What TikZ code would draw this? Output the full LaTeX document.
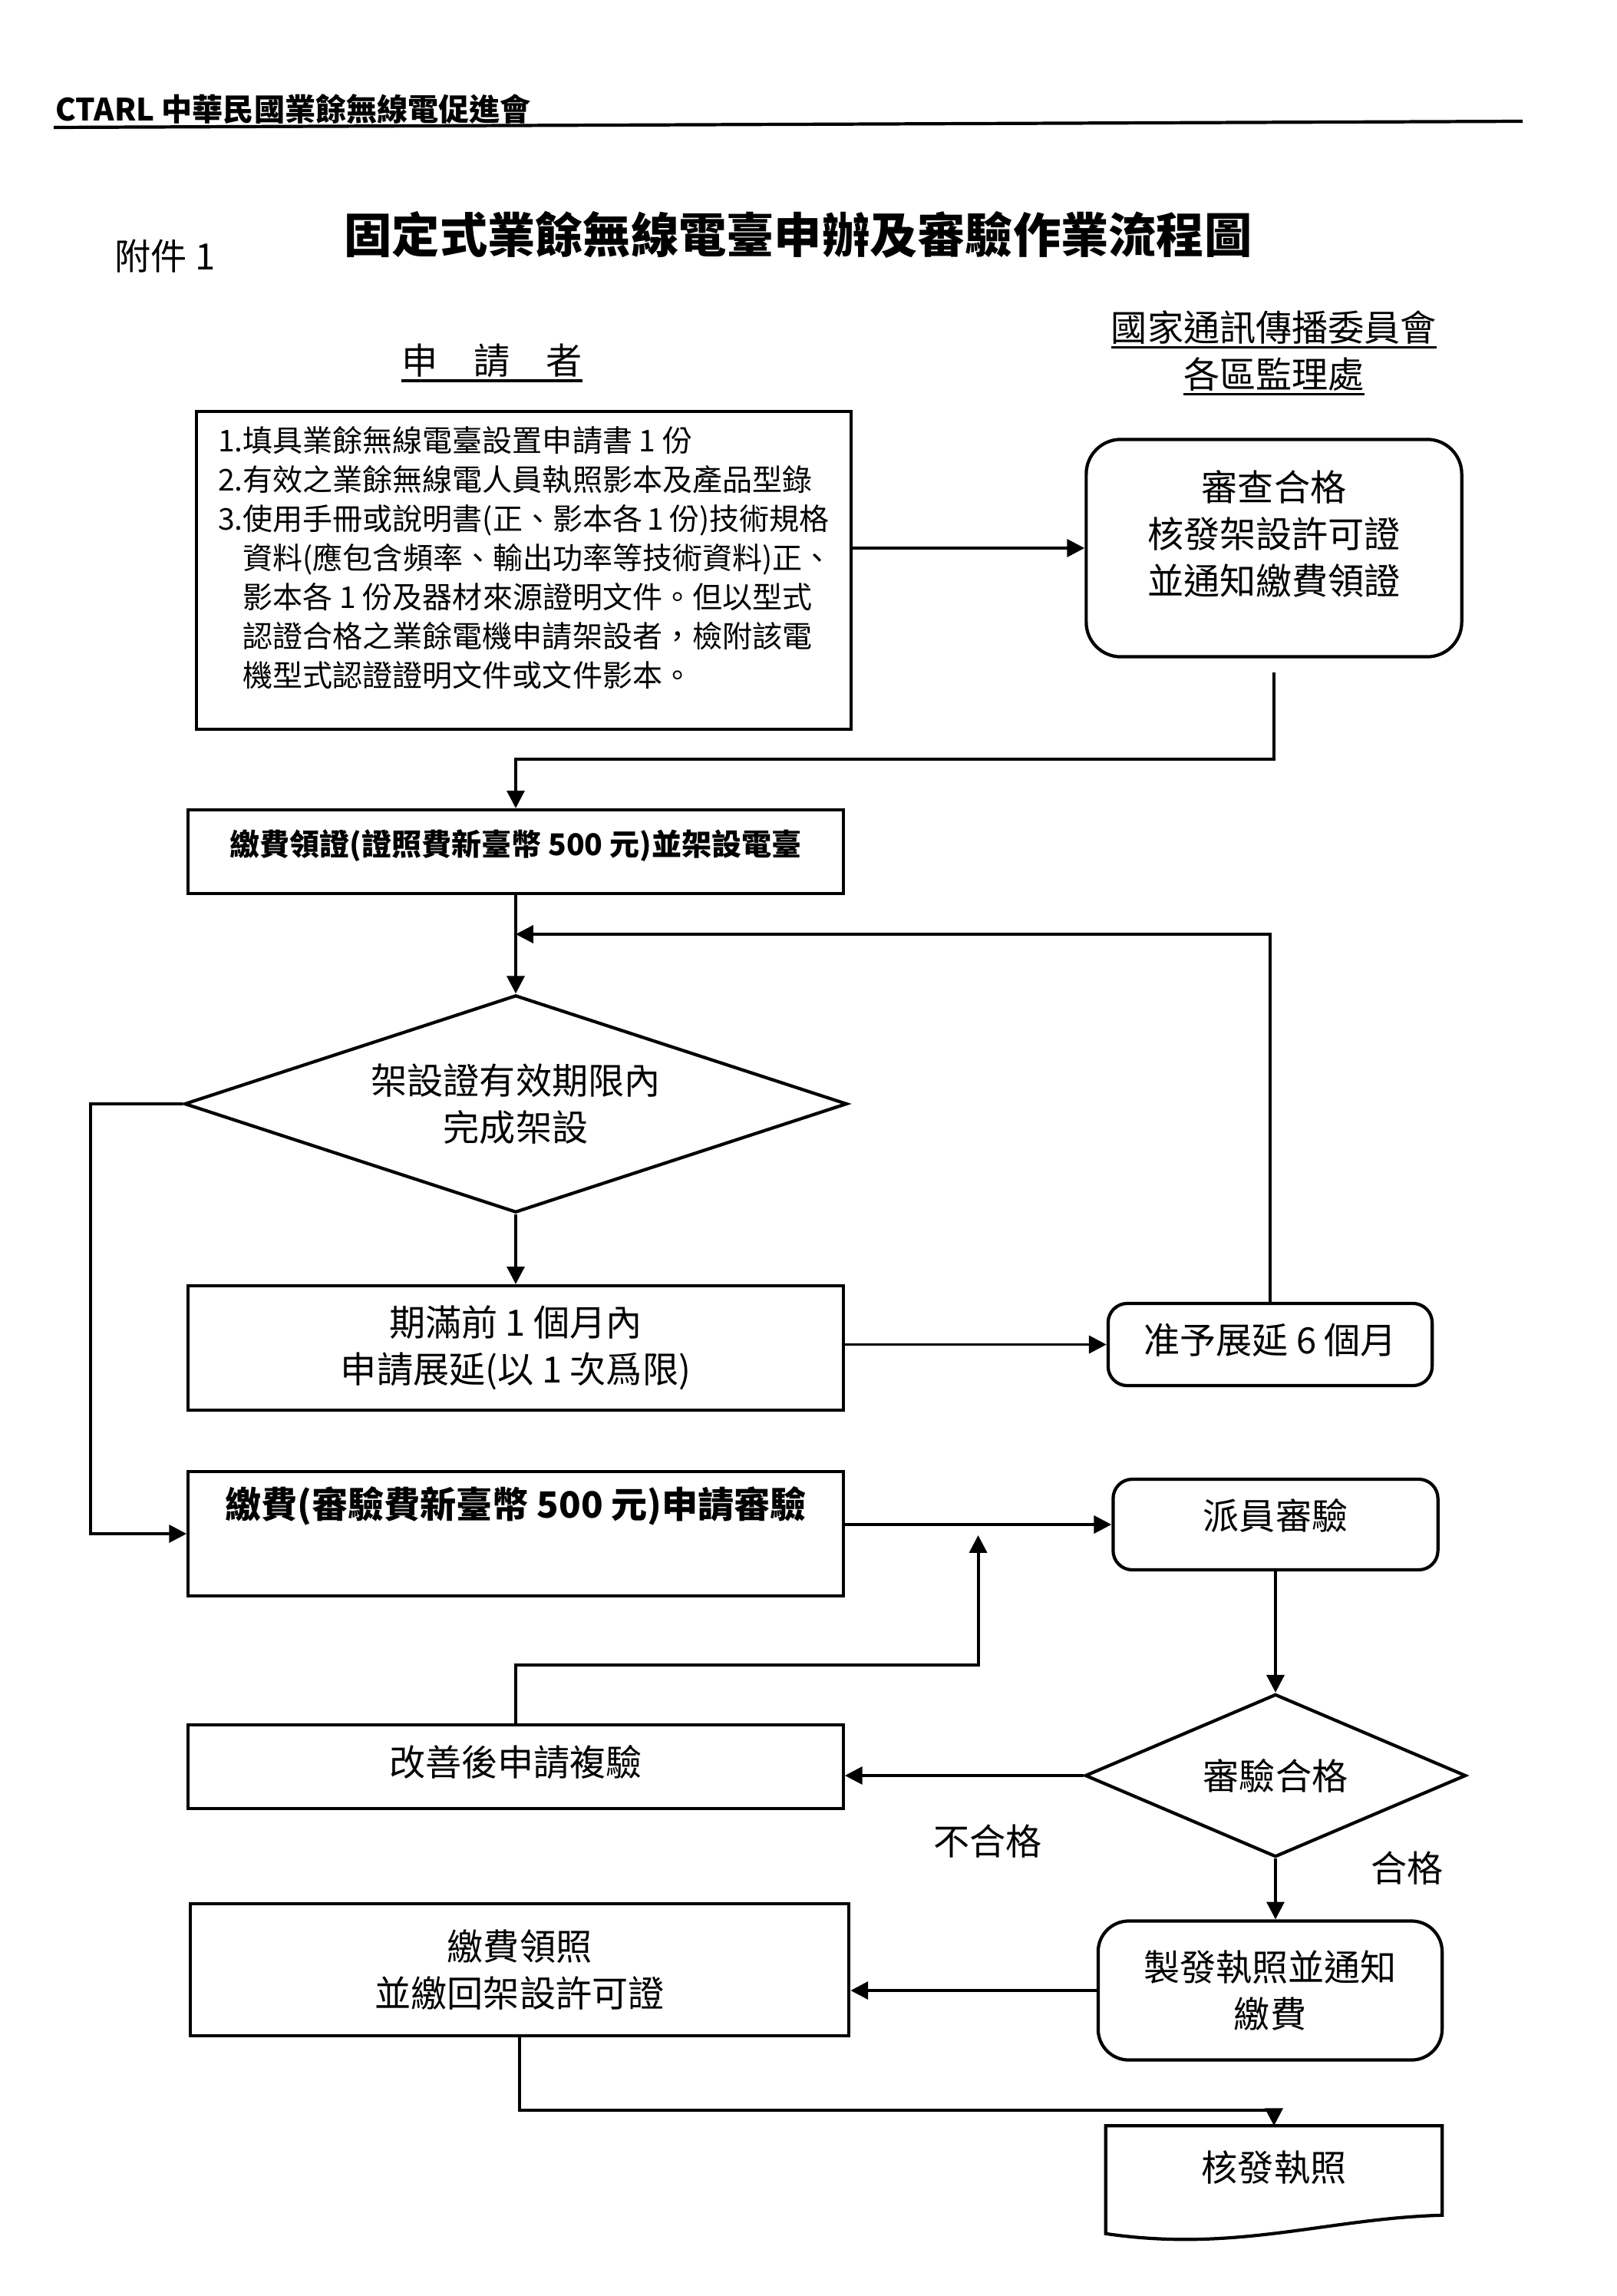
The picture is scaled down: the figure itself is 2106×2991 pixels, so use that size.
\documentclass[tikz,border=0pt]{standalone}
\usepackage{fontspec}
\setmainfont{Noto Sans CJK TC}
\usetikzlibrary{arrows.meta, positioning, shapes.geometric, calc}

\newcommand{\headsize}{\fontsize{11.4}{13.7}\selectfont}
\newcommand{\titlesize}{\fontsize{17.7}{21}\selectfont}
\newcommand{\mainsize}{\fontsize{13.4}{17.4}\selectfont}
\newcommand{\listsize}{\fontsize{11.1}{14.5}\selectfont}
\newcommand{\thickunder}[1]{\leavevmode\vtop{\hbox{#1}\kern0.6pt\hrule height 0.9pt}}

\begin{document}
\begin{tikzpicture}[
    x=0.01cm, y=-0.01cm,
    every node/.style={font=\mainsize},
    plain/.style={draw, line width=1.2pt, inner sep=0pt},
    box/.style={plain, align=center, minimum width=8.53cm},
    softbox/.style={plain, align=center, rounded corners=0.25cm},
    decision/.style={plain, diamond, aspect=3, align=center},
    heading/.style={inner sep=0pt, align=center},
    tag/.style={inner sep=0pt},
    arrow/.style={-{Triangle[length=6.5pt, width=6.5pt]}, line width=1.1pt},
    link/.style={line width=1.2pt}
]
\useasboundingbox (0,0) rectangle (2106,2991);

% Headings
\node (club) [heading, anchor=base west, font=\headsize\bfseries] at (72,158) {CTARL 中華民國業餘無線電促進會};
\coordinate (ruleL) at (70,166);
\coordinate (ruleR) at (1984,158);
\node (title) [heading, font=\titlesize\bfseries] at (1040,306) {固定式業餘無線電臺申辦及審驗作業流程圖};
\node (annex) [heading, anchor=west] at (149,334) {附件 1};
\node (applicant) [heading] at (641,473) {\thickunder{申\hspace{1em}請\hspace{1em}者}};
\node (office) [heading] at (1660,460) {\thickunder{國家通訊傳播委員會}\\\thickunder{各區監理處}};

% Nodes
\node (apply) [plain, anchor=north west, minimum width=8.52cm, inner xsep=0.28cm, inner ysep=0.19cm] at (254,534)
    {\parbox[c][3.76cm][t]{7.96cm}{\raggedright\listsize
    1.填具業餘無線電臺設置申請書~1~份\\
    2.有效之業餘無線電人員執照影本及產品型錄\\
    3.使用手冊或說明書(正、影本各~1~份)技術規格\\
    \phantom{3.}資料(應包含頻率、輸出功率等技術資料)正、\\
    \phantom{3.}影本各~1~份及器材來源證明文件。但以型式\\
    \phantom{3.}認證合格之業餘電機申請架設者，檢附該電\\
    \phantom{3.}機型式認證證明文件或文件影本。}};
\node (review) [plain, rounded corners=0.45cm, minimum width=4.89cm, inner ysep=0.4cm] at (1660,714)
    {\parbox[c][2.03cm][t]{4.6cm}{\centering 審查合格\\核發架設許可證\\並通知繳費領證}};
\node (permitfee) [box, font=\listsize\bfseries, text height=0.59cm, text depth=0.50cm, anchor=base] at (672,1114) {繳費領證(證照費新臺幣~500~元)並架設電臺};
\coordinate (merge) at (672,1217);
\node (deadline) [decision, minimum width=8.63cm, minimum height=2.83cm] at (672,1438) {架設證有效期限內\\完成架設};
\node (renew) [box, minimum height=1.62cm] at (672,1756) {期滿前~1~個月內\\申請展延(以~1~次爲限)};
\node (extend) [softbox, minimum width=4.22cm, text height=0.65cm, text depth=0.42cm, anchor=base] at (1655,1763) {准予展延~6~個月};
\node (examfee) [box, font=\mainsize\bfseries, text height=0.60cm, text depth=1.02cm, anchor=base] at (672,1977) {繳費(審驗費新臺幣~500~元)申請審驗};
\node (dispatch) [softbox, minimum width=4.23cm, text height=0.65cm, text depth=0.53cm, anchor=base] at (1662,1992) {派員審驗};
\node (recheck) [box, text height=0.66cm, text depth=0.43cm, anchor=base] at (672,2313) {改善後申請複驗};
\node (passcheck) [decision, minimum width=4.96cm, minimum height=2.12cm] at (1662,2313) {審驗合格};
\node (issue) [softbox, rounded corners=0.4cm, minimum width=4.48cm, minimum height=1.81cm] at (1655,2593) {製發執照並通知\\繳費};
\node (licensefee) [box, minimum width=8.58cm, minimum height=1.72cm] at (677,2566) {繳費領照\\並繳回架設許可證};
\node (license) [tag, minimum width=4.37cm, text height=0.71cm, text depth=0.68cm, anchor=base] at (1660,2841) {核發執照};
\draw [link] (license.north west) -- (license.north east) -- ($(license.south east)+(0,-24)$)
    .. controls ($(license.south east)+(-150,-20)$) and ($(license.south west)+(170,25)$) .. (license.south west) -- cycle;

% Paths
\draw [link] (ruleL) -- (ruleR);
\draw [arrow] (apply.east |- review.west) -- (review.west);
\draw [arrow, shorten <=0.18cm] (review.south) -- ++(0,131) -| (permitfee.north);
\draw [arrow] (permitfee.south) -- (deadline.north);
\draw [arrow] (extend.north) |- (merge);
\draw [arrow] (deadline.south) -- (renew.north);
\draw [arrow] (renew.east |- extend.west) -- (extend.west);
\draw [arrow] (deadline.west) -- ++(-120,0) |- (examfee.west);
\draw [arrow] (examfee.east |- dispatch.west) -- (dispatch.west);
\coordinate (rejoin) at ($(examfee.east |- dispatch.west)!0.5!(dispatch.west)+(0,14)$);
\draw [arrow] (recheck.north) -- ++(0,-76) -| (rejoin);
\draw [arrow] (dispatch.south) -- (passcheck.north);
\draw [arrow] (passcheck.west) -- node[tag, pos=0.4, below=0.62cm] {不合格} (passcheck.west -| recheck.east);
\draw [arrow] (passcheck.south) -- node[tag, pos=0.15, right=1.22cm] {合格} (passcheck.south |- issue.north);
\draw [arrow] (issue.west) -- (issue.west -| licensefee.east);
\draw [arrow] (licensefee.south) -- ++(0,95) -| (license.north);

\end{tikzpicture}
\end{document}
